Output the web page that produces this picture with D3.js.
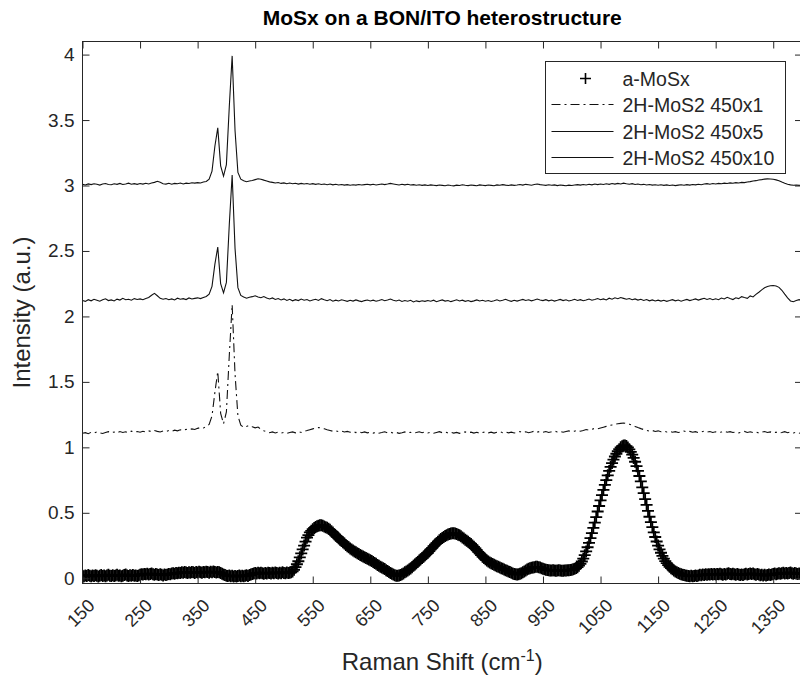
<!DOCTYPE html>
<html>
<head>
<meta charset="utf-8">
<script src="https://cdn.jsdelivr.net/npm/d3@7"></script>
<style>
  body { margin: 0; background: #fff; }
  svg text { font-family: "Liberation Sans", Arial, Helvetica, sans-serif; fill: #262626; }
</style>
</head>
<body>
<svg id="chart" width="800" height="687"></svg>
<script>
// a-MoSx spectrum: 150-1400 cm^-1, every 2.5 cm^-1 (one row of 40 per 100 cm^-1)
const aStart = 150;
const aStep = 2.5;
const aMoSx = [
  0.020,0.016,0.022,0.018,0.024,0.019,0.015,0.021,0.017,0.023,0.020,0.014,0.019,0.025,0.018,0.022,0.016,0.021,0.027,0.020,
  0.018,0.023,0.017,0.021,0.026,0.019,0.022,0.016,0.020,0.024,0.029,0.021,0.018,0.023,0.020,0.025,0.019,0.022,0.017,0.021,
  0.026,0.031,0.028,0.033,0.030,0.035,0.029,0.032,0.036,0.031,0.027,0.033,0.029,0.025,0.030,0.026,0.022,0.028,0.024,0.029,
  0.033,0.030,0.036,0.039,0.035,0.041,0.038,0.043,0.040,0.045,0.042,0.047,0.044,0.040,0.046,0.043,0.048,0.045,0.041,0.047,
  0.044,0.049,0.046,0.042,0.048,0.045,0.050,0.047,0.043,0.049,0.046,0.051,0.047,0.044,0.048,0.045,0.040,0.035,0.029,0.024,
  0.020,0.017,0.021,0.016,0.019,0.014,0.018,0.013,0.017,0.021,0.016,0.020,0.015,0.019,0.023,0.018,0.024,0.029,0.033,0.037,
  0.040,0.036,0.042,0.038,0.043,0.039,0.035,0.041,0.037,0.043,0.040,0.036,0.042,0.038,0.044,0.040,0.037,0.043,0.039,0.045,
  0.041,0.038,0.044,0.040,0.042,0.046,0.052,0.065,0.085,0.107,0.130,0.160,0.190,0.220,0.250,0.280,0.310,0.330,0.350,0.362,
  0.375,0.384,0.392,0.397,0.401,0.404,0.405,0.401,0.395,0.390,0.385,0.378,0.370,0.360,0.350,0.337,0.325,0.315,0.305,0.295,
  0.285,0.275,0.265,0.255,0.245,0.236,0.228,0.220,0.212,0.205,0.198,0.191,0.185,0.178,0.172,0.166,0.160,0.155,0.150,0.144,
  0.138,0.131,0.125,0.117,0.110,0.102,0.095,0.088,0.082,0.076,0.070,0.062,0.055,0.047,0.040,0.034,0.028,0.023,0.020,0.019,
  0.022,0.025,0.030,0.037,0.045,0.052,0.060,0.067,0.075,0.085,0.095,0.105,0.115,0.125,0.135,0.145,0.155,0.165,0.175,0.185,
  0.195,0.207,0.220,0.232,0.245,0.257,0.268,0.279,0.290,0.299,0.308,0.315,0.322,0.329,0.335,0.339,0.342,0.343,0.343,0.341,
  0.338,0.333,0.328,0.320,0.312,0.304,0.295,0.287,0.278,0.270,0.262,0.251,0.240,0.228,0.215,0.202,0.190,0.177,0.165,0.155,
  0.145,0.136,0.128,0.121,0.115,0.109,0.103,0.097,0.092,0.087,0.082,0.077,0.072,0.067,0.062,0.057,0.052,0.047,0.042,0.037,
  0.033,0.030,0.029,0.030,0.034,0.039,0.045,0.052,0.060,0.066,0.072,0.076,0.080,0.083,0.085,0.087,0.087,0.085,0.082,0.077,
  0.072,0.068,0.065,0.063,0.062,0.060,0.059,0.061,0.060,0.058,0.059,0.061,0.059,0.057,0.058,0.060,0.059,0.061,0.062,0.063,
  0.065,0.068,0.072,0.078,0.085,0.096,0.110,0.128,0.150,0.176,0.205,0.237,0.270,0.307,0.345,0.385,0.425,0.467,0.510,0.552,
  0.595,0.635,0.675,0.713,0.750,0.786,0.820,0.851,0.880,0.906,0.930,0.951,0.970,0.986,1.000,1.009,1.015,1.014,1.010,0.999,
  0.985,0.966,0.945,0.919,0.890,0.856,0.820,0.781,0.740,0.695,0.650,0.605,0.560,0.515,0.470,0.429,0.390,0.351,0.315,0.281,
  0.250,0.221,0.195,0.171,0.150,0.131,0.115,0.100,0.088,0.077,0.068,0.059,0.052,0.046,0.040,0.035,0.031,0.027,0.024,0.021,
  0.019,0.017,0.016,0.019,0.015,0.018,0.021,0.017,0.022,0.026,0.023,0.028,0.025,0.030,0.027,0.031,0.028,0.033,0.029,0.032,
  0.028,0.033,0.030,0.035,0.031,0.027,0.032,0.029,0.034,0.038,0.033,0.030,0.035,0.031,0.027,0.032,0.028,0.024,0.029,0.025,
  0.030,0.034,0.029,0.033,0.037,0.032,0.036,0.031,0.027,0.032,0.028,0.023,0.027,0.022,0.026,0.021,0.025,0.029,0.024,0.028,
  0.032,0.036,0.031,0.035,0.039,0.034,0.038,0.042,0.037,0.041,0.036,0.040,0.044,0.039,0.035,0.040,0.036,0.032,0.037,0.033,
  0.038
];

// 2H-MoS2 spectra: 150-1400 cm^-1, every 5 cm^-1 (one row of 20 per 100 cm^-1)
const lineStart = 150;
const lineStep = 5;

const mos2x1 = [
  1.108,1.112,1.104,1.115,1.109,1.118,1.111,1.106,1.114,1.120,1.112,1.117,1.109,1.121,1.114,1.119,1.112,1.124,1.116,1.121,
  1.115,1.123,1.118,1.126,1.120,1.128,1.122,1.117,1.125,1.121,1.129,1.123,1.131,1.126,1.134,1.128,1.137,1.132,1.141,1.136,
  1.145,1.152,1.148,1.158,1.175,1.240,1.420,1.580,1.260,1.180,1.270,1.700,2.090,1.560,1.240,1.170,1.152,1.160,1.168,1.158,
  1.149,1.155,1.138,1.126,1.119,1.112,1.118,1.110,1.116,1.109,1.114,1.107,1.113,1.118,1.111,1.120,1.114,1.122,1.128,1.135,
  1.141,1.146,1.152,1.148,1.142,1.135,1.129,1.123,1.127,1.119,1.124,1.117,1.122,1.115,1.120,1.113,1.119,1.112,1.118,1.111,
  1.116,1.109,1.115,1.108,1.113,1.119,1.111,1.116,1.109,1.114,1.107,1.112,1.118,1.110,1.115,1.108,1.113,1.119,1.112,1.117,
  1.110,1.115,1.108,1.114,1.120,1.112,1.117,1.110,1.116,1.109,1.114,1.107,1.113,1.118,1.111,1.116,1.109,1.115,1.108,1.113,
  1.118,1.111,1.116,1.109,1.115,1.120,1.112,1.118,1.111,1.116,1.110,1.115,1.121,1.113,1.119,1.112,1.117,1.124,1.116,1.122,
  1.115,1.121,1.114,1.119,1.125,1.117,1.122,1.115,1.121,1.126,1.119,1.124,1.130,1.123,1.129,1.136,1.131,1.138,1.145,1.141,
  1.148,1.154,1.160,1.166,1.171,1.176,1.180,1.183,1.186,1.182,1.177,1.169,1.160,1.151,1.143,1.136,1.130,1.124,1.129,1.121,
  1.126,1.119,1.124,1.117,1.122,1.115,1.120,1.113,1.118,1.125,1.117,1.122,1.115,1.120,1.113,1.118,1.124,1.116,1.121,1.114,
  1.119,1.112,1.117,1.123,1.115,1.120,1.113,1.118,1.111,1.116,1.122,1.114,1.119,1.112,1.117,1.110,1.115,1.121,1.113,1.118,
  1.111,1.116,1.109,1.114,1.120,1.112,1.117,1.110,1.115,1.108,1.113
];

const mos2x5 = [
  2.122,2.115,2.128,2.119,2.131,2.124,2.116,2.127,2.135,2.121,2.126,2.118,2.132,2.125,2.138,2.127,2.131,2.124,2.136,2.129,
  2.134,2.128,2.137,2.145,2.162,2.176,2.158,2.138,2.131,2.137,2.128,2.134,2.126,2.139,2.131,2.136,2.129,2.141,2.133,2.138,
  2.142,2.136,2.145,2.152,2.170,2.230,2.400,2.530,2.250,2.180,2.260,2.700,3.080,2.520,2.220,2.160,2.148,2.139,2.146,2.151,
  2.158,2.149,2.143,2.152,2.140,2.133,2.141,2.130,2.137,2.126,2.134,2.122,2.131,2.119,2.128,2.121,2.133,2.124,2.129,2.118,
  2.125,2.131,2.122,2.136,2.127,2.120,2.129,2.116,2.124,2.118,2.127,2.121,2.115,2.123,2.117,2.126,2.119,2.113,2.121,2.125,
  2.118,2.124,2.116,2.122,2.129,2.120,2.126,2.133,2.124,2.118,2.125,2.114,2.121,2.116,2.123,2.111,2.119,2.113,2.120,2.115,
  2.122,2.116,2.124,2.112,2.119,2.126,2.117,2.122,2.113,2.120,2.127,2.118,2.124,2.115,2.121,2.113,2.119,2.126,2.118,2.123,
  2.116,2.122,2.114,2.120,2.127,2.118,2.124,2.131,2.121,2.115,2.123,2.117,2.124,2.130,2.122,2.127,2.119,2.125,2.133,2.126,
  2.121,2.128,2.119,2.125,2.117,2.123,2.130,2.121,2.127,2.118,2.124,2.131,2.122,2.128,2.120,2.126,2.133,2.124,2.130,2.137,
  2.128,2.134,2.126,2.139,2.131,2.142,2.135,2.144,2.138,2.131,2.137,2.128,2.134,2.125,2.131,2.122,2.129,2.119,2.126,2.118,
  2.124,2.117,2.123,2.115,2.121,2.128,2.119,2.125,2.116,2.123,2.130,2.121,2.127,2.134,2.125,2.132,2.139,2.130,2.137,2.128,
  2.135,2.128,2.140,2.133,2.146,2.137,2.129,2.142,2.136,2.151,2.144,2.138,2.157,2.149,2.168,2.185,2.203,2.219,2.228,2.234,
  2.236,2.232,2.222,2.200,2.170,2.142,2.118,2.112,2.121,2.128,2.124
];

const mos2x10 = [
  3.010,3.004,3.012,3.007,3.013,3.009,3.003,3.011,3.015,3.008,3.006,3.013,3.009,3.016,3.008,3.012,3.018,3.010,3.014,3.009,
  3.015,3.011,3.017,3.012,3.019,3.024,3.032,3.025,3.014,3.011,3.017,3.010,3.016,3.013,3.019,3.012,3.018,3.015,3.021,3.018,
  3.022,3.019,3.027,3.031,3.048,3.110,3.300,3.440,3.150,3.072,3.160,3.600,3.990,3.420,3.100,3.048,3.036,3.029,3.034,3.038,
  3.045,3.052,3.048,3.041,3.035,3.028,3.024,3.019,3.023,3.016,3.020,3.014,3.019,3.013,3.017,3.011,3.016,3.012,3.015,3.010,
  3.014,3.009,3.013,3.008,3.012,3.006,3.011,3.005,3.009,3.004,3.008,3.003,3.007,3.002,3.006,3.003,3.008,3.004,3.007,3.010,
  3.005,3.009,3.004,3.008,3.012,3.007,3.011,3.016,3.012,3.008,3.004,3.009,3.005,3.010,3.004,3.007,3.002,3.006,3.001,3.005,
  3.000,3.005,3.002,2.999,3.004,3.001,2.998,3.004,3.000,2.997,3.003,3.000,3.006,3.002,2.999,3.004,3.001,2.998,3.005,3.002,
  2.999,3.004,3.001,2.998,3.005,3.002,3.007,3.003,3.000,3.005,3.001,3.004,3.008,3.003,3.009,3.006,3.002,3.008,3.012,3.007,
  3.004,3.001,3.006,3.002,3.005,2.999,3.004,3.001,2.998,3.003,3.000,3.004,3.007,3.003,3.008,3.004,3.009,3.005,3.011,3.007,
  3.012,3.008,3.013,3.009,3.015,3.011,3.016,3.012,3.018,3.013,3.010,3.014,3.008,3.011,3.006,3.009,3.004,3.008,3.003,3.006,
  3.002,3.006,3.001,3.005,3.000,3.004,2.999,3.003,3.006,3.002,3.007,3.003,3.008,3.005,3.010,3.006,3.011,3.014,3.010,3.015,
  3.012,3.016,3.013,3.018,3.015,3.020,3.017,3.022,3.019,3.024,3.022,3.027,3.030,3.034,3.037,3.042,3.045,3.049,3.051,3.050,
  3.048,3.043,3.036,3.026,3.017,3.010,3.005,3.002,3.004,3.001,3.003
];

const seriesNames = ["a-MoSx", "2H-MoS2 450x1", "2H-MoS2 450x5", "2H-MoS2 450x10"];
const xTicks = [150, 250, 350, 450, 550, 650, 750, 850, 950, 1050, 1150, 1250, 1350];
const yTicks = [0, 0.5, 1, 1.5, 2, 2.5, 3, 3.5, 4];
const xDomain = [150, 1400];
const yDomain = [-0.04, 4.1];

const titleText = "MoSx on a BON/ITO heterostructure";
const xLabelText = "Raman Shift (cm";
const yLabelText = "Intensity (a.u.)";

// ---- layout ----
const plot = { left: 82.5, right: 802, top: 41.5, bottom: 583.5 };
const ink = "#262626";
const dashDot = "9,4,2,4";

const svg = d3.select("#chart");

const x = d3.scaleLinear().domain(xDomain).range([plot.left, plot.right]);
const y = d3.scaleLinear().domain(yDomain).range([plot.bottom, plot.top]);

const toPoints = (vals, start, step) => vals.map((v, i) => [start + i * step, v]);

svg.append("defs").append("clipPath").attr("id", "plotClip")
  .append("rect")
  .attr("x", plot.left).attr("y", plot.top)
  .attr("width", plot.right - plot.left).attr("height", plot.bottom - plot.top);

const area = svg.append("g").attr("clip-path", "url(#plotClip)");

const line = d3.line().x(d => x(d[0])).y(d => y(d[1]));

// 450x1 : dash-dot
area.append("path")
  .datum(toPoints(mos2x1, lineStart, lineStep))
  .attr("d", line)
  .attr("fill", "none")
  .attr("stroke", "#111")
  .attr("stroke-width", 1.1)
  .attr("stroke-dasharray", dashDot);

// 450x5 and 450x10 : solid
[mos2x5, mos2x10].forEach(vals => {
  area.append("path")
    .datum(toPoints(vals, lineStart, lineStep))
    .attr("d", line)
    .attr("fill", "none")
    .attr("stroke", "#111")
    .attr("stroke-width", 1.1);
});

// a-MoSx : plus markers
const plusPath = "M-6,0H6M0,-6V6";
area.append("g")
  .selectAll("path")
  .data(toPoints(aMoSx, aStart, aStep))
  .join("path")
  .attr("transform", d => `translate(${x(d[0])},${y(d[1])})`)
  .attr("d", plusPath)
  .attr("stroke", "#000")
  .attr("stroke-width", 1.8)
  .attr("fill", "none");

// ---- axes box and ticks (ticks pointing inward on all four sides) ----
const frame = svg.append("g");
frame.append("rect")
  .attr("x", plot.left).attr("y", plot.top)
  .attr("width", plot.right - plot.left).attr("height", plot.bottom - plot.top)
  .attr("fill", "none").attr("stroke", ink).attr("stroke-width", 1);

const tickLen = 7;
const xBottom = d3.axisBottom(x).tickValues(xTicks).tickSizeInner(-tickLen).tickSizeOuter(0).tickFormat("");
const xTop = d3.axisTop(x).tickValues(xTicks).tickSizeInner(-tickLen).tickSizeOuter(0).tickFormat("");
const yLeft = d3.axisLeft(y).tickValues(yTicks).tickSizeInner(-tickLen).tickSizeOuter(0).tickFormat("");
const yRight = d3.axisRight(y).tickValues(yTicks).tickSizeInner(-tickLen).tickSizeOuter(0).tickFormat("");

function styleAxis(g) {
  g.select(".domain").remove();
  g.selectAll("line").attr("stroke", ink).attr("stroke-width", 1);
}
frame.append("g").attr("transform", `translate(0,${plot.bottom})`).call(xBottom).call(styleAxis);
frame.append("g").attr("transform", `translate(0,${plot.top})`).call(xTop).call(styleAxis);
frame.append("g").attr("transform", `translate(${plot.left},0)`).call(yLeft).call(styleAxis);
frame.append("g").attr("transform", `translate(${plot.right},0)`).call(yRight).call(styleAxis);

// tick labels
const fmtY = d3.format("~g");
svg.append("g").selectAll("text")
  .data(yTicks).join("text")
  .attr("x", plot.left - 8)
  .attr("y", d => y(d))
  .attr("text-anchor", "end")
  .attr("dominant-baseline", "central")
  .style("font-size", "19px")
  .text(d => fmtY(d));

svg.append("g").selectAll("text")
  .data(xTicks).join("text")
  .attr("transform", d => `translate(${x(d) + 9},${plot.bottom + 19}) rotate(-45)`)
  .attr("text-anchor", "end")
  .attr("dominant-baseline", "central")
  .style("font-size", "18px")
  .text(d => d);

// title and axis labels
svg.append("text")
  .attr("x", (plot.left + plot.right) / 2)
  .attr("y", 25)
  .attr("text-anchor", "middle")
  .style("font-size", "21px")
  .style("font-weight", "bold")
  .style("fill", "#000")
  .text(titleText);

const xl = svg.append("text")
  .attr("x", (plot.left + plot.right) / 2)
  .attr("y", 670)
  .attr("text-anchor", "middle")
  .style("font-size", "24px");
xl.append("tspan").text(xLabelText);
xl.append("tspan").attr("dy", -9).style("font-size", "16px").text("-1");
xl.append("tspan").attr("dy", 9).text(")");

svg.append("text")
  .attr("transform", `translate(30,${(plot.top + plot.bottom) / 2}) rotate(-90)`)
  .attr("text-anchor", "middle")
  .style("font-size", "24px")
  .text(yLabelText);

// ---- legend ----
const lg = { x: 545.5, y: 61.5, w: 240, h: 112 };
const legend = svg.append("g");
legend.append("rect")
  .attr("x", lg.x).attr("y", lg.y).attr("width", lg.w).attr("height", lg.h)
  .attr("fill", "#fff").attr("stroke", ink).attr("stroke-width", 1);

const rowY = i => Math.round(lg.y + 16 + i * 26.5) + 0.5;
const styles = [
  { type: "marker" },
  { type: "line", dash: dashDot },
  { type: "line", dash: null },
  { type: "line", dash: null }
];
seriesNames.forEach((name, i) => {
  const yy = rowY(i);
  const st = styles[i];
  if (st.type === "marker") {
    legend.append("path")
      .attr("transform", `translate(${lg.x + 40},${yy})`)
      .attr("d", "M-5.5,0H5.5M0,-5.5V5.5")
      .attr("stroke", "#000").attr("stroke-width", 1.6).attr("fill", "none");
  } else {
    legend.append("line")
      .attr("x1", lg.x + 6).attr("x2", lg.x + 68)
      .attr("y1", yy).attr("y2", yy)
      .attr("stroke", "#111").attr("stroke-width", 1.1)
      .attr("stroke-dasharray", st.dash);
  }
  legend.append("text")
    .attr("x", lg.x + 77)
    .attr("y", yy)
    .attr("dominant-baseline", "central")
    .style("font-size", "19.5px")
    .text(name);
});
</script>
</body>
</html>
